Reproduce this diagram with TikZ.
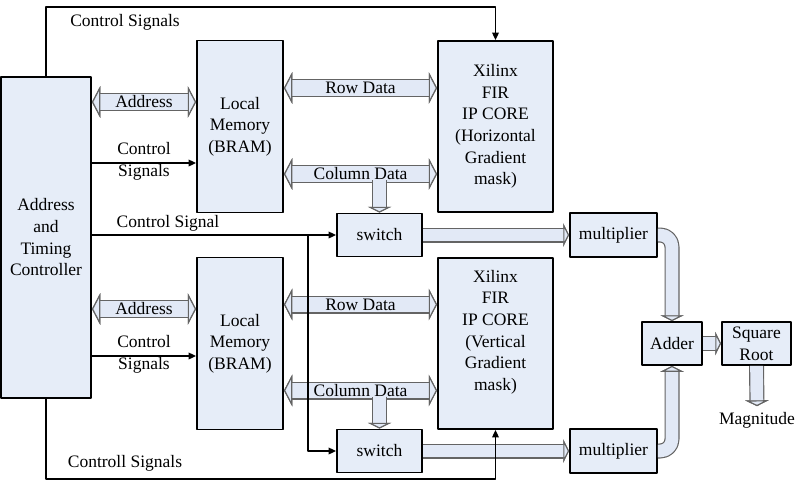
\documentclass[tikz,border=0pt]{standalone}
\usepackage{fontspec}
\setmainfont{Liberation Serif}
\usepackage{xcolor}
\usetikzlibrary{arrows.meta}
\definecolor{boxfill}{RGB}{230,237,248}
\definecolor{pipefill}{RGB}{226,233,246}
\definecolor{pipeedge}{RGB}{100,100,100}
\tikzset{
  blk/.style={draw, line width=1.1pt, fill=boxfill, align=center, inner sep=1pt},
  sig/.style={line width=0.8pt, -{Triangle[length=4.5pt,width=4pt]}},
  pipetip/.tip={Triangle[length=3.5pt,width=14pt,line width=0.7pt,color=pipeedge,fill=pipefill]},
  bustip/.tip={Triangle[length=5pt,width=19pt,line width=0.7pt,color=pipeedge,fill=pipefill]},
  pipe/.style={draw=pipefill, line width=7.6pt, line cap=butt, -pipetip,
    preaction={draw=pipeedge, line width=9pt, line cap=butt, -pipetip}},
  bus/.style={draw=pipefill, line width=9.2pt, line cap=butt, bustip-bustip,
    preaction={draw=pipeedge, line width=10.8pt, line cap=butt, bustip-bustip}},
}
\begin{document}
\begin{tikzpicture}[line cap=round,line join=round,x=0.6pt,y=-0.6pt,font=\fontsize{10.5}{13}\selectfont]
\useasboundingbox (0,0) rectangle (797,488);
\node[blk, minimum width=54pt, minimum height=192.6pt] (ctrl) at (46,237.5) {Address\\and\\Timing\\Controller};
\node[blk, minimum width=51.6pt, minimum height=103.2pt] (mem1) at (240,126.5) {Local\\Memory\\(BRAM)};
\node[blk, minimum width=51.6pt, minimum height=103.2pt] (mem2) at (240,343.5) {Local\\Memory\\(BRAM)};
\node[blk, minimum width=69pt, minimum height=102.6pt] (fir1) at (495.5,126.5) {Xilinx\\FIR\\IP CORE\\(Horizontal\\Gradient\\mask)};
\node[blk, minimum width=69pt, minimum height=102.6pt] (fir2) at (495.5,343.5) {};
\node[align=center] (fir2txt) at (495.5,332) {Xilinx\\FIR\\IP CORE\\(Vertical\\Gradient\\mask)};
\node[blk, minimum width=51pt, minimum height=25.8pt] (sw1) at (379.5,235) {switch};
\node[blk, minimum width=51pt, minimum height=25.8pt] (sw2) at (379.5,451) {switch};
\node[blk, minimum width=52.2pt, minimum height=26.4pt] (mul1) at (613.5,235) {multiplier};
\node[blk, minimum width=52.2pt, minimum height=26.4pt] (mul2) at (613.5,451) {multiplier};
\node[blk, minimum width=36pt, minimum height=25.8pt] (adder) at (672,343.5) {Adder};
\node[blk, minimum width=41.4pt, minimum height=25.8pt, inner sep=0pt] (sqrt) at (756.5,343.5) {Square\\Root};
\node (mag) at (757,420) {Magnitude};

\coordinate (addr1) at (150,102);
\coordinate (row1) at (360,88);
\coordinate (col1) at (360,174);
\coordinate (coldn1) at (379.5,180);
\coordinate (addr2) at (150,309);
\coordinate (row2) at (360,304.5);
\coordinate (col2) at (360,390.5);
\coordinate (coldn2) at (379.5,396.5);
\coordinate (ctl1) at (150,163);
\coordinate (ctl2) at (150,356);
\coordinate (branch) at (308,235);
\coordinate (sigtop) at (300,7);
\coordinate (sigbot) at (300,479);

\draw[bus] (ctrl.east |- addr1) -- node {Address} (mem1.west |- addr1);
\draw[bus] (mem1.east |- row1) -- node {Row Data} (fir1.west |- row1);
\draw[bus] (mem1.east |- col1) -- node {Column Data} (fir1.west |- col1);
\draw[pipe] (coldn1) -- (sw1.north);
\draw[bus] (ctrl.east |- addr2) -- node {Address} (mem2.west |- addr2);
\draw[bus] (mem2.east |- row2) -- node {Row Data} (fir2.west |- row2);
\draw[bus] (mem2.east |- col2) -- node {Column Data} (fir2.west |- col2);
\draw[pipe] (coldn2) -- (sw2.north);
\draw[pipe] (sw1.east) -- (mul1.west);
\draw[pipe] (sw2.east) -- (mul2.west);
\draw[pipe, rounded corners=7pt] (mul1.east) -| (adder.north);
\draw[pipe, rounded corners=7pt] (mul2.east) -| (adder.south);
\draw[pipe] (adder.east) -- (sqrt.west);
\draw[pipe] (sqrt.south) -- (mag.north);

\draw[sig] (ctrl.east |- ctl1) -- node[align=center, yshift=1pt] {Control\\Signals} (mem1.west |- ctl1);
\draw[sig] (ctrl.east |- ctl2) -- node[align=center, yshift=1pt] {Control\\Signals} (mem2.west |- ctl2);
\draw[sig] (ctrl.east |- sw1.west) -- (sw1.west);
\draw[sig] (branch) |- (sw2.west);
\draw[sig] (ctrl.north) |- (sigtop) -| (fir1.north);
\draw[sig] (ctrl.south) |- (sigbot) -| (fir2.south);
\node (lbltop) at (125,22) {Control Signals};
\node (lblbot) at (125,463) {Controll Signals};
\node (lblsw) at (168,223) {Control Signal};
\end{tikzpicture}
\end{document}
